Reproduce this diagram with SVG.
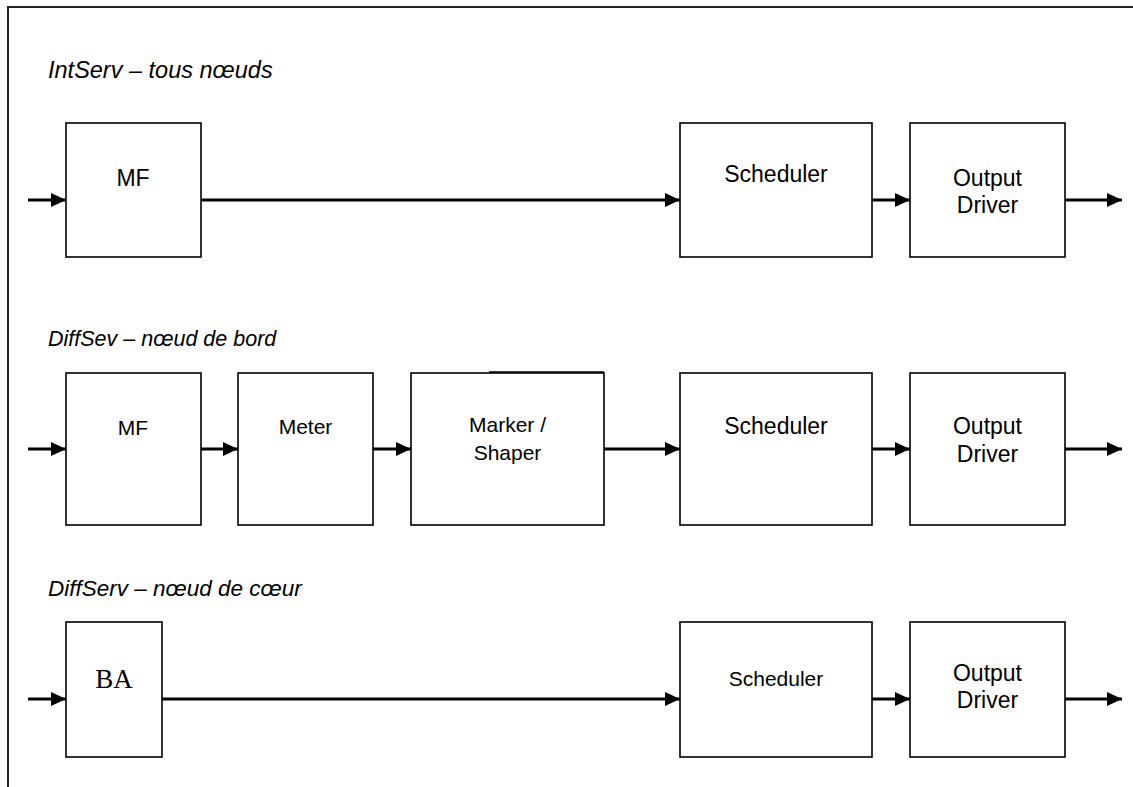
<svg xmlns="http://www.w3.org/2000/svg" width="1133" height="787" viewBox="0 0 1133 787">
  <defs>
    <marker id="arrow" markerUnits="userSpaceOnUse" markerWidth="16" markerHeight="14" refX="15" refY="7" orient="auto">
      <path d="M0,0 L15,7 L0,14 z" fill="#000"/>
    </marker>
    <style>
      .frame { fill: none; stroke: #222; stroke-width: 2; }
      .box { fill: #fff; stroke: #000; stroke-width: 1.6; }
      .link { fill: none; stroke: #000; stroke-width: 3.2; marker-end: url(#arrow); }
      .title { font-family: "Liberation Sans", Arial, sans-serif; font-style: italic; font-size: 21.5px; fill: #000; }
      .lbl { font-family: "Liberation Sans", Arial, sans-serif; font-size: 23px; fill: #000; text-anchor: middle; }
      .lbl-s { font-family: "Liberation Sans", Arial, sans-serif; font-size: 21px; fill: #000; text-anchor: middle; }
      .lbl-serif { font-family: "Liberation Serif", "Times New Roman", serif; font-size: 27px; fill: #000; text-anchor: middle; }
    </style>
  </defs>

  <rect width="1133" height="787" fill="#fff"/>

  <!-- page frame (top and left edges only) -->
  <path class="frame" d="M8,787 L8,7 L1133,7"/>

  <!-- section titles -->
  <text class="title" x="48" y="78" style="font-size:23.5px">IntServ – tous nœuds</text>
  <text class="title" x="48" y="346">DiffSev – nœud de bord</text>
  <text class="title" x="48" y="596" style="font-size:22.5px">DiffServ – nœud de cœur</text>

  <!-- IntServ row -->
  <g id="intserv-mf">
    <rect class="box" x="66" y="123" width="135" height="134"/>
    <text class="lbl" x="133" y="186">MF</text>
  </g>
  <g id="intserv-scheduler">
    <rect class="box" x="680" y="123" width="192" height="134"/>
    <text class="lbl" x="776" y="182">Scheduler</text>
  </g>
  <g id="intserv-driver">
    <rect class="box" x="910" y="123" width="155" height="134"/>
    <text class="lbl" x="987.5" y="186">Output</text>
    <text class="lbl" x="987.5" y="213">Driver</text>
  </g>

  <!-- DiffServ edge row -->
  <g id="edge-mf">
    <rect class="box" x="66" y="373" width="135" height="152"/>
    <text class="lbl-s" x="133" y="435">MF</text>
  </g>
  <g id="edge-meter">
    <rect class="box" x="238" y="373" width="135" height="152"/>
    <text class="lbl-s" x="305.5" y="434">Meter</text>
  </g>
  <g id="edge-marker">
    <rect class="box" x="411" y="373" width="193" height="152"/>
    <line x1="489" y1="372" x2="604" y2="372" stroke="#000" stroke-width="1.6"/>
    <text class="lbl-s" x="507.5" y="432">Marker /</text>
    <text class="lbl-s" x="507.5" y="460">Shaper</text>
  </g>
  <g id="edge-scheduler">
    <rect class="box" x="680" y="373" width="192" height="152"/>
    <text class="lbl" x="776" y="434">Scheduler</text>
  </g>
  <g id="edge-driver">
    <rect class="box" x="910" y="373" width="155" height="152"/>
    <text class="lbl" x="987.5" y="434">Output</text>
    <text class="lbl" x="987.5" y="462">Driver</text>
  </g>

  <!-- DiffServ core row -->
  <g id="core-ba">
    <rect class="box" x="66" y="622" width="96" height="135"/>
    <text class="lbl-serif" x="114" y="688">BA</text>
  </g>
  <g id="core-scheduler">
    <rect class="box" x="680" y="622" width="192" height="135"/>
    <text class="lbl-s" x="776" y="686">Scheduler</text>
  </g>
  <g id="core-driver">
    <rect class="box" x="910" y="622" width="155" height="135"/>
    <text class="lbl" x="987.5" y="681">Output</text>
    <text class="lbl" x="987.5" y="708">Driver</text>
  </g>

  <!-- connectors -->
  <g id="connectors">
    <line class="link" x1="28" y1="200" x2="66" y2="200"/>
    <line class="link" x1="201" y1="200" x2="680" y2="200"/>
    <line class="link" x1="872" y1="200" x2="910" y2="200"/>
    <line class="link" x1="1065" y1="200" x2="1122" y2="200"/>

    <line class="link" x1="28" y1="449" x2="66" y2="449"/>
    <line class="link" x1="201" y1="449" x2="238" y2="449"/>
    <line class="link" x1="373" y1="449" x2="411" y2="449"/>
    <line class="link" x1="604" y1="449" x2="680" y2="449"/>
    <line class="link" x1="872" y1="449" x2="910" y2="449"/>
    <line class="link" x1="1065" y1="449" x2="1122" y2="449"/>

    <line class="link" x1="28" y1="699" x2="66" y2="699"/>
    <line class="link" x1="162" y1="699" x2="680" y2="699"/>
    <line class="link" x1="872" y1="699" x2="910" y2="699"/>
    <line class="link" x1="1065" y1="699" x2="1122" y2="699"/>
  </g>
</svg>
